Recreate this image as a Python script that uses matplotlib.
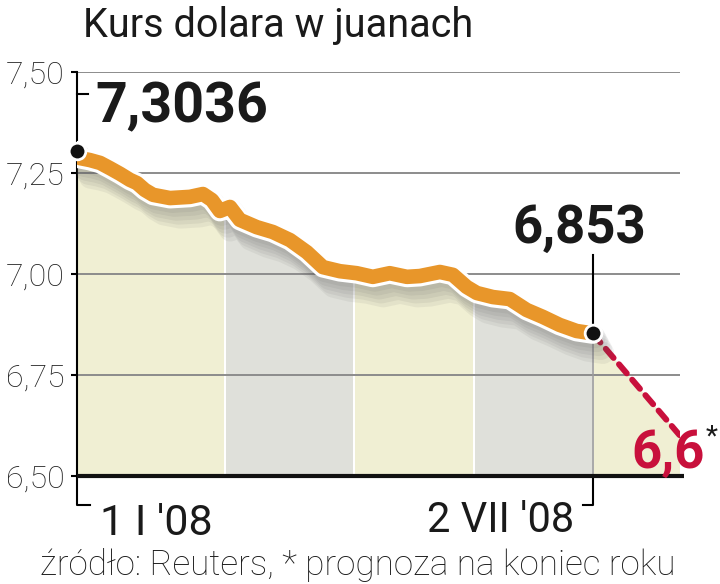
import matplotlib
matplotlib.use("Agg")
import matplotlib.pyplot as plt
import matplotlib.patheffects as pe
from matplotlib.patches import Rectangle

# kurs USD/CNY, 1 I '08 - 2 VII '08 (x = dni od 1 I)
days = [0, 1, 4.6, 8.2, 11.7, 15.3, 18.8, 21.3, 24.1, 27.0, 33.0, 40.1, 44.7,
        47.9, 50.7, 54.3, 57.8, 63.8, 69.5, 75.6, 81.6, 87.3, 93.3, 99.3,
        105.0, 111.0, 117.1, 121.7, 128.8, 133.4, 138.3, 141.9, 147.6, 153.6,
        159.6, 165.3, 171.3, 177.3, 183]
rate = [7.3036, 7.287, 7.282, 7.275, 7.262, 7.248, 7.233, 7.225, 7.208, 7.196,
        7.188, 7.191, 7.198, 7.183, 7.156, 7.166, 7.134, 7.116, 7.104, 7.084,
        7.054, 7.017, 7.007, 7.002, 6.993, 7.002, 6.993, 6.995, 7.005, 6.998,
        6.968, 6.953, 6.943, 6.938, 6.911, 6.894, 6.874, 6.859, 6.853]

# prognoza na koniec roku
forecast_x = [183, 214]
forecast_y = [6.853, 6.6]

yticks = [6.50, 6.75, 7.00, 7.25, 7.50]
ytick_labels = ["6,50", "6,75", "7,00", "7,25", "7,50"]
band_edges = [0, 52.5, 98.2, 140.8, 183, 214]
band_colors = ["#f0efd3", "#dfe0da", "#f0efd3", "#dfe0da", "#f0efd3"]

ORANGE = "#e8962a"
RED = "#c8103c"
FONT = ["Roboto", "DejaVu Sans"]

fig = plt.figure(figsize=(7.2, 5.84), dpi=100)
ax = fig.add_axes([0.1069, 0.1849, 0.8375, 0.6918])
ax.set_xlim(0, 214)
ax.set_ylim(6.5, 7.5)

# fill under the line, split into coloured bands
all_x = days + forecast_x[1:]
all_y = rate + forecast_y[1:]
for x0, x1, c in zip(band_edges[:-1], band_edges[1:], band_colors):
    poly = ax.fill_between(all_x, 6.5, all_y, color=c, lw=0, zorder=1)
    clip = Rectangle((x0 + 0.5, 6.5), x1 - x0 - 1.0, 1.0, transform=ax.transData)
    poly.set_clip_path(clip)

# gridlines
for y in yticks[1:]:
    ax.axhline(y, color="#8c8c8c", lw=1.4, zorder=2)

# forecast dashed line
ax.plot(forecast_x, forecast_y, color=RED, lw=4.3, dashes=(2.0, 1.4),
        dash_capstyle="round", zorder=4)

# main line with white outline and soft shadow
shadows = [pe.SimpleLineShadow(offset=(1.5 * k, -2.8 * k), shadow_color="#555555",
                               alpha=0.08, linewidth=16) for k in (1, 2, 3, 4, 5)]
ax.plot(days, rate, color=ORANGE, lw=10.5, solid_capstyle="round",
        solid_joinstyle="round", zorder=5,
        path_effects=shadows + [pe.Stroke(linewidth=15, foreground="white"), pe.Normal()])

# leaders and markers
ax.plot([183, 183], [6.5, 6.853], color="#9a9a9a", lw=1.2, zorder=3)
ax.plot([183, 183], [6.853, 7.047], color="black", lw=1.5, zorder=6)
ax.plot([0, 3.9], [7.4455, 7.4455], color="black", lw=1.5, zorder=6, clip_on=False)
ax.plot([0, 183], [7.3036, 6.853], ls="none", marker="o", ms=12, mfc="#111111",
        mec="white", mew=2, zorder=7, clip_on=False)

# axes frame
for s in ["top", "right", "bottom"]:
    ax.spines[s].set_visible(False)
ax.spines["left"].set_linewidth(1.5)
ax.plot([0, 215.5], [6.5, 6.5], color="#111111", lw=3, zorder=6, clip_on=False,
        solid_capstyle="butt")
ax.plot([0, 0, 4.6], [6.5, 6.428, 6.428], color="black", lw=1.5, clip_on=False)
ax.plot([183, 183, 179.5], [6.5, 6.428, 6.428], color="black", lw=1.5, clip_on=False)

ax.set_xticks([])
ax.set_yticks(yticks)
ax.set_yticklabels(ytick_labels, fontsize=23, family=FONT, fontweight="light",
                   color="#222222")
ax.tick_params(axis="y", length=4, width=1.5, pad=5)

# texts
fig.text(0.115, 0.9366, "Kurs dolara w juanach", fontsize=28.5, family=FONT,
         color="#1a1a1a", va="baseline")
ax.text(6.4, 7.376, "7,3036", fontsize=40, fontweight="bold", family=FONT,
        color="#1a1a1a", va="baseline", zorder=8)
ax.text(154.6, 7.077, "6,853", fontsize=38, fontweight="bold", family=FONT,
        color="#1a1a1a", va="baseline", zorder=8)
ax.text(196.9, 6.52, "6,6", fontsize=38, fontweight="bold", family=FONT,
        color=RED, va="baseline", zorder=8, clip_on=False)
ax.text(223.0, 6.63, "*", fontsize=20, family=FONT, color="#1a1a1a",
        va="top", clip_on=False)
ax.text(8.2, 6.354, "1 I '08", fontsize=31, family=FONT, color="#1a1a1a",
        va="baseline", clip_on=False)
ax.text(176.6, 6.361, "2 VII '08", fontsize=30, family=FONT, color="#1a1a1a",
        va="baseline", ha="right", clip_on=False)
fig.text(0.0556, 0.0154, "źródło: Reuters, * prognoza na koniec roku", fontsize=25.2,
         family=FONT, fontweight="light", color="#1a1a1a", va="baseline")

fig.savefig("out.png", dpi=100)
